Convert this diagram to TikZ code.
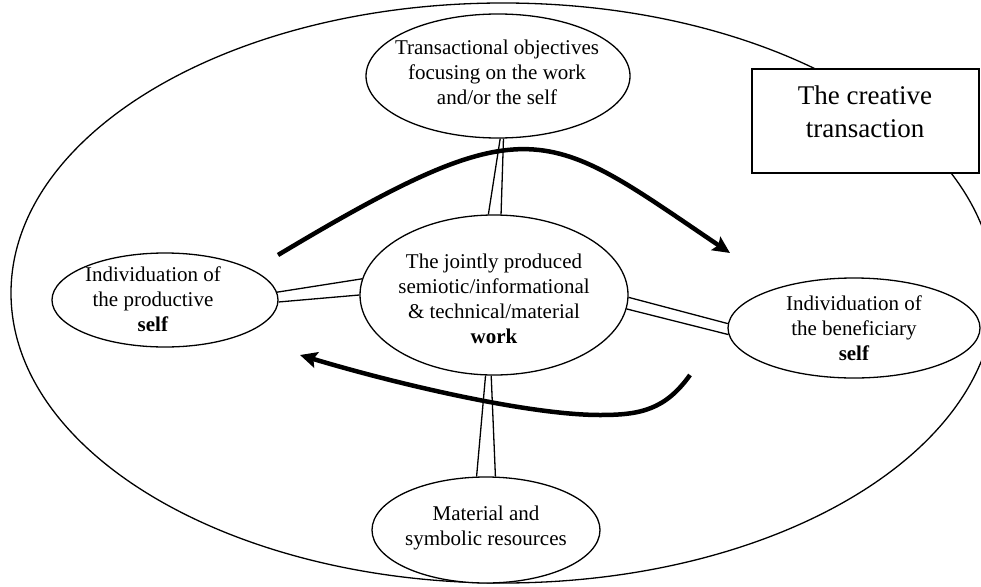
\documentclass[tikz,border=0pt]{standalone}
\usepackage{fontspec}
\setmainfont{Liberation Serif}
\usetikzlibrary{shapes.geometric}
\usetikzlibrary{arrows.meta}

\begin{document}
\begin{tikzpicture}[x=1pt, y=-1pt,
  bubble/.style={draw, black, fill=white, ellipse, inner sep=0pt, line width=\t},
  words/.style={align=center, font=\fontsize{21}{25}\selectfont},
  flow/.style={line width=4.5pt, -{Stealth[length=\l, width=\w, inset=3pt]}}]
\def\l{17pt}
\def\w{16pt}
\def\t{1.3pt}

\useasboundingbox (0,0) rectangle (981,586);

\node [draw, black, ellipse, line width=\t, minimum width=984pt, minimum height=580pt, name=whole] at (503,293) {};

\node [bubble, minimum width=264pt, minimum height=124pt, name=aims]  at (498,76) {};
\node [bubble, minimum width=268pt, minimum height=160pt, name=work]  at (494,295) {};
\node [bubble, minimum width=226pt, minimum height=94pt,  name=maker] at (165,300) {};
\node [bubble, minimum width=252pt, minimum height=100pt, name=user]  at (854,328) {};
\node [bubble, minimum width=228pt, minimum height=106pt, name=means] at (486,530) {};
\node [draw, black, fill=white, rectangle, line width=\t, minimum width=227pt, minimum height=104pt, name=frame] at (865.5,121) {};

\node [words, name=aimstext]  at (497,72)  {Transactional objectives\\focusing on the work\\and/or the self};
\node [words, name=worktext]  at (494,299) {The jointly produced\\semiotic/informational\\\& technical/material\\\textbf{work}};
\node [words, name=makertext] at (153,299) {Individuation of\\the productive\\\textbf{self}};
\node [words, name=usertext]  at (854,328) {Individuation of\\the beneficiary\\\textbf{self}};
\node [words, name=meanstext] at (486,528) {Material and\\symbolic resources};
\node [align=center, font=\fontsize{27}{33}\selectfont, name=title] at (865,112) {The creative\\transaction};

% double links into the work
\draw [line width=\t] (maker.4) -- (work.173);
\draw [line width=\t] (maker.-1) -- (work.180);
\draw [line width=\t] (aims.-88) -- (work.94);
\draw [line width=\t] (aims.-85) -- (work.85);
\draw [line width=\t] (work.-96) -- (means.100);
\draw [line width=\t] (work.-92) -- (means.80);
\draw [line width=\t] (work.-1) -- (user.178);
\draw [line width=\t] (work.-6) -- (user.183);

\coordinate (s1) at (278,255);
\coordinate (e1) at (730,253);
\coordinate (s2) at (690,375);
\coordinate (m2) at (600,415);
\coordinate (e2) at (300,355);
\draw [flow] (s1) .. controls (532,103) and (545,128) .. (e1);
\draw [flow] (s2) .. controls (665,410) and (640,415) .. (m2) .. controls (530,415) and (400,385) .. (e2);
\end{tikzpicture}
\end{document}
